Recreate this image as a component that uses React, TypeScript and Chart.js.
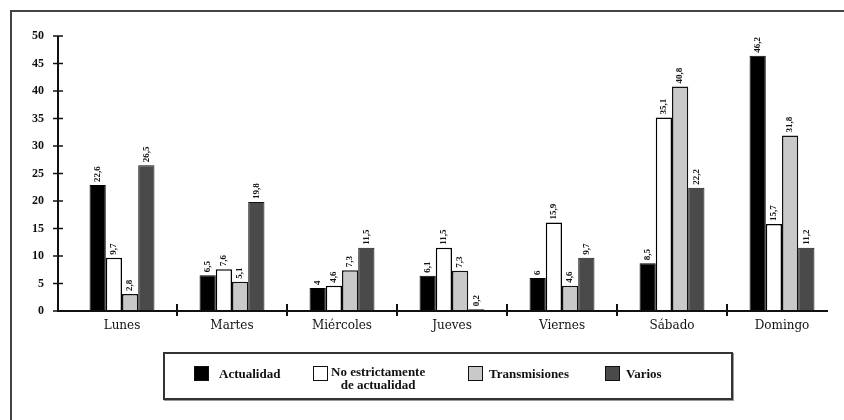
import React, { useEffect, useRef } from "react";
import { Chart, registerables } from "chart.js";

Chart.register(...registerables);

const categories = ["Lunes", "Martes", "Miércoles", "Jueves", "Viernes", "Sábado", "Domingo"];
const actualidad = [22.9, 6.5, 4.2, 6.4, 6, 8.7, 46.4];
const noEstrictamente = [9.7, 7.6, 4.6, 11.5, 16.1, 35.2, 15.8];
const transmisiones = [3.1, 5.3, 7.4, 7.3, 4.6, 40.8, 31.9];
const varios = [26.5, 19.8, 11.5, 0.3, 9.7, 22.4, 11.5];
const actualidadLabels = ["22,6", "6,5", "4", "6,1", "6", "8,5", "46,2"];
const noEstrictamenteLabels = ["9,7", "7,6", "4,6", "11,5", "15,9", "35,1", "15,7"];
const transmisionesLabels = ["2,8", "5,1", "7,3", "7,3", "4,6", "40,8", "31,8"];
const variosLabels = ["26,5", "19,8", "11,5", "0,2", "9,7", "22,2", "11,2"];
const yTicks = [0, 5, 10, 15, 20, 25, 30, 35, 40, 45, 50];
const legendNames = ["Actualidad", "No estrictamente de actualidad", "Transmisiones", "Varios"];

const SERIF = "'Liberation Serif', 'DejaVu Serif', serif";
const WIDE_SERIF = "'DejaVu Serif', 'Liberation Serif', serif";

const decoPlugin = {
  id: "deco",
  afterDatasetsDraw(chart: any) {
    const ctx = chart.ctx;
    const area = chart.chartArea;
    const x = chart.scales.x;
    const y = chart.scales.y;
    const y0 = y.getPixelForValue(0);
    ctx.save();
    ctx.strokeStyle = "#111";
    ctx.lineWidth = 2;
    const axX = area.left - 9;
    ctx.beginPath();
    ctx.moveTo(axX, y.getPixelForValue(50));
    ctx.lineTo(axX, y0);
    ctx.lineTo(area.right - 9, y0);
    ctx.stroke();
    ctx.lineWidth = 1.5;
    yTicks.forEach((v) => {
      const py = y.getPixelForValue(v);
      ctx.beginPath();
      ctx.moveTo(axX - 5, py);
      ctx.lineTo(axX + 5, py);
      ctx.stroke();
    });
    ctx.lineWidth = 2;
    for (let i = 1; i < categories.length; i++) {
      const px = (x.getPixelForValue(i - 1) + x.getPixelForValue(i)) / 2;
      ctx.beginPath();
      ctx.moveTo(px, y0 - 7);
      ctx.lineTo(px, y0 + 5);
      ctx.stroke();
    }
    const labelSets = [actualidadLabels, noEstrictamenteLabels, transmisionesLabels, variosLabels];
    ctx.fillStyle = "#111";
    ctx.font = "bold 9px " + SERIF;
    ctx.textAlign = "left";
    ctx.textBaseline = "middle";
    chart.data.datasets.forEach((ds: any, di: number) => {
      const meta = chart.getDatasetMeta(di);
      meta.data.forEach((bar: any, i: number) => {
        ctx.save();
        ctx.translate(bar.x, bar.y - 3);
        ctx.rotate(-Math.PI / 2);
        ctx.fillText(labelSets[di][i], 0, 0);
        ctx.restore();
      });
    });
    ctx.restore();
  },
};

export default function App() {
  const ref = useRef<HTMLCanvasElement>(null);
  useEffect(() => {
    document.body.style.margin = "0";
    const chart = new Chart(ref.current as HTMLCanvasElement, {
      type: "bar",
      data: {
        labels: categories,
        datasets: [
          { label: legendNames[0], data: actualidad, backgroundColor: "#000", borderColor: "#000", borderWidth: 1 },
          { label: legendNames[1], data: noEstrictamente, backgroundColor: "#fff", borderColor: "#000", borderWidth: 1.5 },
          { label: legendNames[2], data: transmisiones, backgroundColor: "#c9c9c9", borderColor: "#111", borderWidth: 1.5 },
          { label: legendNames[3], data: varios, backgroundColor: "#4a4a4a", borderColor: "#111", borderWidth: 1 },
        ],
      },
      options: {
        animation: false,
        responsive: false,
        maintainAspectRatio: false,
        layout: { padding: { top: 36, right: 7, left: 0, bottom: 0 } },
        plugins: { legend: { display: false }, tooltip: { enabled: false } },
        datasets: { bar: { categoryPercentage: 0.59, barPercentage: 1.0 } },
        scales: {
          x: {
            grid: { display: false, drawTicks: false },
            border: { display: false },
            ticks: { color: "#111", font: { family: WIDE_SERIF, size: 12 }, padding: 8, maxRotation: 0 },
            afterFit(scale: any) { scale.height = 109; },
          },
          y: {
            min: 0,
            max: 50,
            afterBuildTicks(scale: any) { scale.ticks = yTicks.map((v) => ({ value: v })); },
            grid: { display: false, drawTicks: false },
            border: { display: false },
            ticks: { color: "#111", font: { family: SERIF, size: 12, weight: "bold" }, padding: 23 },
            afterFit(scale: any) { scale.width = 67; },
          },
        },
      },
      plugins: [decoPlugin],
    } as any);
    return () => chart.destroy();
  }, []);

  const sw = (bg: string) => ({
    display: "inline-block",
    width: 15,
    height: 15,
    background: bg,
    border: "1.5px solid #111",
    boxSizing: "border-box" as const,
  });
  const txt = { fontFamily: SERIF, fontWeight: "bold" as const, fontSize: 13, color: "#111", lineHeight: "13px", position: "absolute" as const };

  return (
    <div style={{ position: "relative", width: 844, height: 420, background: "#fff", overflow: "hidden" }}>
      <div style={{ position: "absolute", left: 10, top: 10, width: 850, height: 430, border: "2px solid #444", boxSizing: "border-box" }} />
      <canvas ref={ref} width={844} height={420} style={{ position: "absolute", left: 0, top: 0 }} />
      <div style={{ position: "absolute", left: 163, top: 352, width: 570, height: 48, border: "2px solid #333", boxSizing: "border-box", background: "#fff", boxShadow: "1px 1px 0 #999" }}>
        <div style={{ position: "absolute", left: 29, top: 12 }}><span style={sw("#000")} /></div>
        <div style={{ ...txt, left: 54, top: 13 }}>{legendNames[0]}</div>
        <div style={{ position: "absolute", left: 148, top: 12 }}><span style={sw("#fff")} /></div>
        <div style={{ ...txt, left: 166, top: 11, textAlign: "center" }}>No estrictamente<br />de actualidad</div>
        <div style={{ position: "absolute", left: 303, top: 12 }}><span style={sw("#c9c9c9")} /></div>
        <div style={{ ...txt, left: 324, top: 13 }}>{legendNames[2]}</div>
        <div style={{ position: "absolute", left: 440, top: 12 }}><span style={sw("#4a4a4a")} /></div>
        <div style={{ ...txt, left: 461, top: 13 }}>{legendNames[3]}</div>
      </div>
    </div>
  );
}
